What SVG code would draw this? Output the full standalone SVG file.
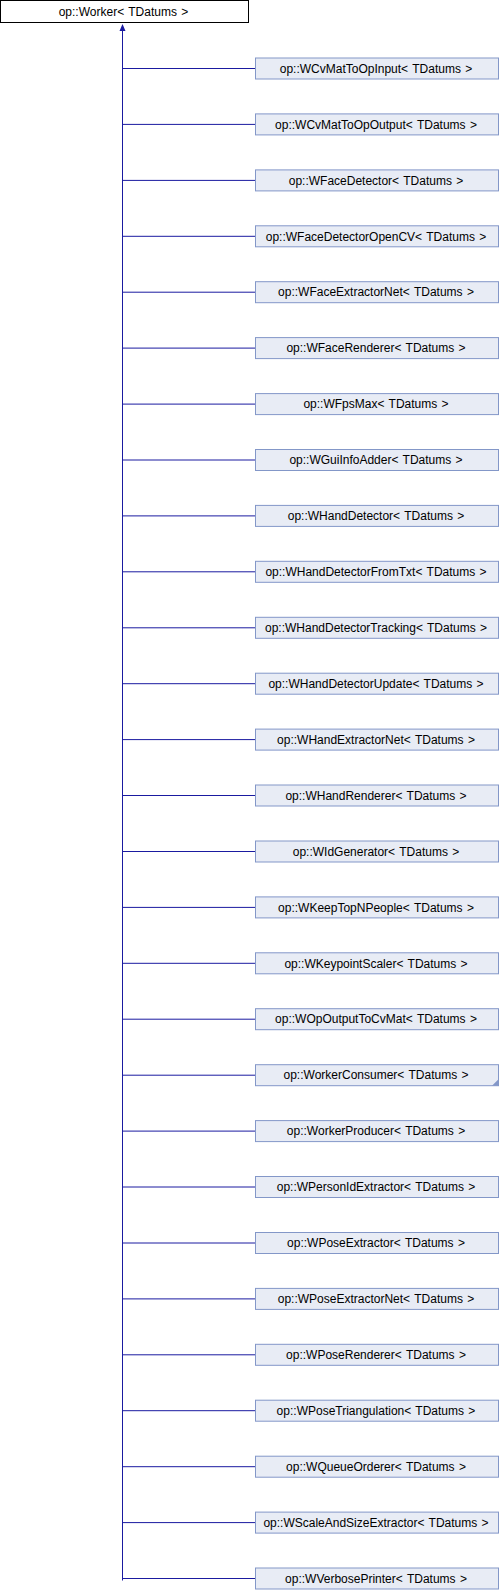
<svg xmlns="http://www.w3.org/2000/svg" width="500" height="1592" viewBox="0 0 500 1592">
<style>
.b{fill:#E8ECF5;stroke:#8397C8;stroke-width:1}
.t{font-family:"Liberation Sans",Arial,sans-serif;font-size:12px;word-spacing:1px;fill:#000;text-anchor:middle}
.c{stroke:#1A1AA0;stroke-width:1;fill:none}
</style>
<rect width="500" height="1592" fill="#fff"/>
<g id="edges">
<path class="c" d="M122.5,28V1580.5"/>
<polygon points="122.5,24 119.5,31 125.5,31" fill="#1A1AA0"/>
<path class="c" d="M122.5,68.5H255M122.5,124.4H255M122.5,180.4H255M122.5,236.3H255M122.5,292.2H255M122.5,348.1H255M122.5,404.1H255M122.5,460H255M122.5,515.9H255M122.5,571.8H255M122.5,627.8H255M122.5,683.7H255M122.5,739.6H255M122.5,795.5H255M122.5,851.5H255M122.5,907.4H255M122.5,963.3H255M122.5,1019.2H255M122.5,1075.2H255M122.5,1131.1H255M122.5,1187H255M122.5,1243H255M122.5,1298.9H255M122.5,1354.8H255M122.5,1410.7H255M122.5,1466.7H255M122.5,1522.6H255M122.5,1578.5H255"/>
</g>
<g id="n0"><rect x="0.5" y="0.5" width="248" height="22" fill="#fff" stroke="#000"/><text class="t" x="123.5" y="15.5">op::Worker&lt; TDatums &gt;</text></g>
<g id="n1"><rect class="b" x="255.5" y="58" width="243" height="21"/><text class="t" x="376" y="72.7">op::WCvMatToOpInput&lt; TDatums &gt;</text></g>
<g id="n2"><rect class="b" x="255.5" y="113.9" width="243" height="21"/><text class="t" x="376" y="128.6">op::WCvMatToOpOutput&lt; TDatums &gt;</text></g>
<g id="n3"><rect class="b" x="255.5" y="169.9" width="243" height="21"/><text class="t" x="376" y="184.6">op::WFaceDetector&lt; TDatums &gt;</text></g>
<g id="n4"><rect class="b" x="255.5" y="225.8" width="243" height="21"/><text class="t" x="376" y="240.5">op::WFaceDetectorOpenCV&lt; TDatums &gt;</text></g>
<g id="n5"><rect class="b" x="255.5" y="281.7" width="243" height="21"/><text class="t" x="376" y="296.4">op::WFaceExtractorNet&lt; TDatums &gt;</text></g>
<g id="n6"><rect class="b" x="255.5" y="337.6" width="243" height="21"/><text class="t" x="376" y="352.3">op::WFaceRenderer&lt; TDatums &gt;</text></g>
<g id="n7"><rect class="b" x="255.5" y="393.6" width="243" height="21"/><text class="t" x="376" y="408.3">op::WFpsMax&lt; TDatums &gt;</text></g>
<g id="n8"><rect class="b" x="255.5" y="449.5" width="243" height="21"/><text class="t" x="376" y="464.2">op::WGuiInfoAdder&lt; TDatums &gt;</text></g>
<g id="n9"><rect class="b" x="255.5" y="505.4" width="243" height="21"/><text class="t" x="376" y="520.1">op::WHandDetector&lt; TDatums &gt;</text></g>
<g id="n10"><rect class="b" x="255.5" y="561.3" width="243" height="21"/><text class="t" x="376" y="576">op::WHandDetectorFromTxt&lt; TDatums &gt;</text></g>
<g id="n11"><rect class="b" x="255.5" y="617.3" width="243" height="21"/><text class="t" x="376" y="632">op::WHandDetectorTracking&lt; TDatums &gt;</text></g>
<g id="n12"><rect class="b" x="255.5" y="673.2" width="243" height="21"/><text class="t" x="376" y="687.9">op::WHandDetectorUpdate&lt; TDatums &gt;</text></g>
<g id="n13"><rect class="b" x="255.5" y="729.1" width="243" height="21"/><text class="t" x="376" y="743.8">op::WHandExtractorNet&lt; TDatums &gt;</text></g>
<g id="n14"><rect class="b" x="255.5" y="785" width="243" height="21"/><text class="t" x="376" y="799.7">op::WHandRenderer&lt; TDatums &gt;</text></g>
<g id="n15"><rect class="b" x="255.5" y="841" width="243" height="21"/><text class="t" x="376" y="855.7">op::WIdGenerator&lt; TDatums &gt;</text></g>
<g id="n16"><rect class="b" x="255.5" y="896.9" width="243" height="21"/><text class="t" x="376" y="911.6">op::WKeepTopNPeople&lt; TDatums &gt;</text></g>
<g id="n17"><rect class="b" x="255.5" y="952.8" width="243" height="21"/><text class="t" x="376" y="967.5">op::WKeypointScaler&lt; TDatums &gt;</text></g>
<g id="n18"><rect class="b" x="255.5" y="1008.7" width="243" height="21"/><text class="t" x="376" y="1023.4">op::WOpOutputToCvMat&lt; TDatums &gt;</text></g>
<g id="n19"><rect class="b" x="255.5" y="1064.7" width="243" height="21"/><polygon points="498,1079.7 498,1085.7 492,1085.7" fill="#8397C8"/><text class="t" x="376" y="1079.4">op::WorkerConsumer&lt; TDatums &gt;</text></g>
<g id="n20"><rect class="b" x="255.5" y="1120.6" width="243" height="21"/><text class="t" x="376" y="1135.3">op::WorkerProducer&lt; TDatums &gt;</text></g>
<g id="n21"><rect class="b" x="255.5" y="1176.5" width="243" height="21"/><text class="t" x="376" y="1191.2">op::WPersonIdExtractor&lt; TDatums &gt;</text></g>
<g id="n22"><rect class="b" x="255.5" y="1232.5" width="243" height="21"/><text class="t" x="376" y="1247.2">op::WPoseExtractor&lt; TDatums &gt;</text></g>
<g id="n23"><rect class="b" x="255.5" y="1288.4" width="243" height="21"/><text class="t" x="376" y="1303.1">op::WPoseExtractorNet&lt; TDatums &gt;</text></g>
<g id="n24"><rect class="b" x="255.5" y="1344.3" width="243" height="21"/><text class="t" x="376" y="1359">op::WPoseRenderer&lt; TDatums &gt;</text></g>
<g id="n25"><rect class="b" x="255.5" y="1400.2" width="243" height="21"/><text class="t" x="376" y="1414.9">op::WPoseTriangulation&lt; TDatums &gt;</text></g>
<g id="n26"><rect class="b" x="255.5" y="1456.2" width="243" height="21"/><text class="t" x="376" y="1470.9">op::WQueueOrderer&lt; TDatums &gt;</text></g>
<g id="n27"><rect class="b" x="255.5" y="1512.1" width="243" height="21"/><text class="t" x="376" y="1526.8">op::WScaleAndSizeExtractor&lt; TDatums &gt;</text></g>
<g id="n28"><rect class="b" x="255.5" y="1568" width="243" height="21"/><text class="t" x="376" y="1582.7">op::WVerbosePrinter&lt; TDatums &gt;</text></g>
</svg>
